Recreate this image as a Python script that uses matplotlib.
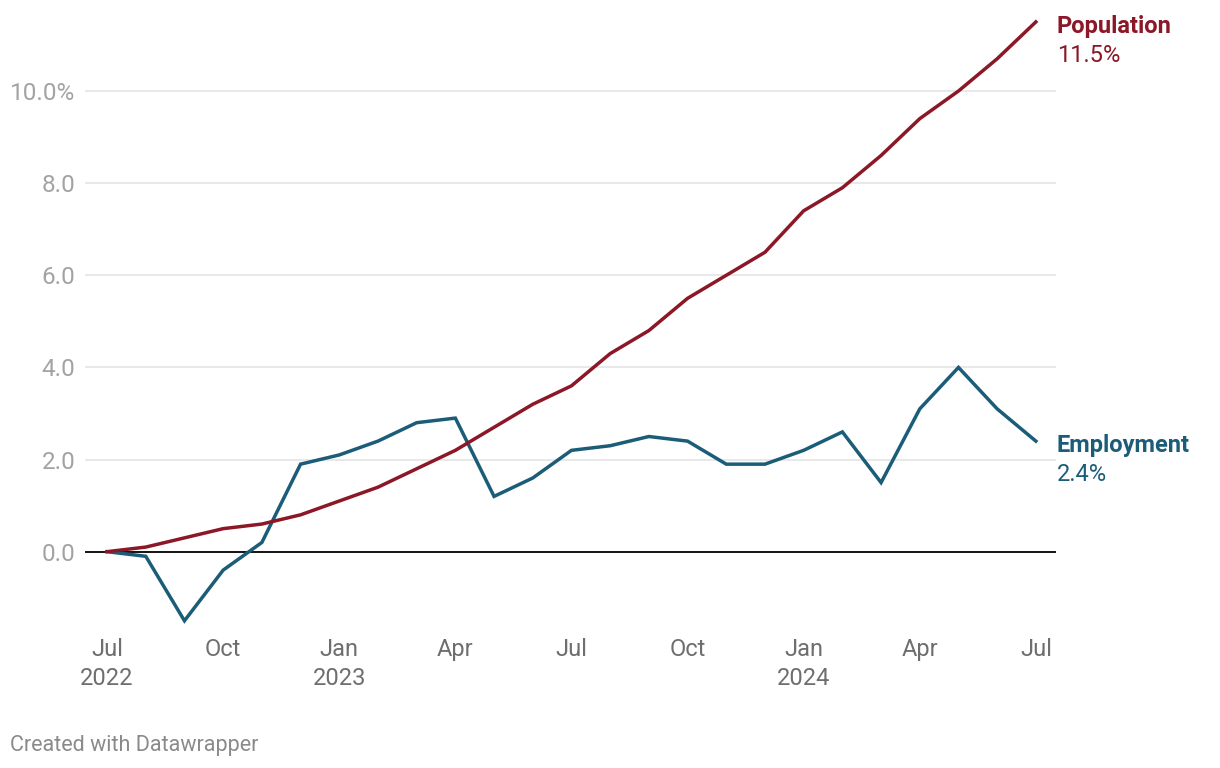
import matplotlib
matplotlib.use("Agg")
import matplotlib.pyplot as plt

plt.rcParams['font.family'] = ['Roboto', 'DejaVu Sans']

# months since Jul 2022
months = list(range(25))
population = [0.0, 0.1, 0.3, 0.5, 0.6, 0.8, 1.1, 1.4, 1.8, 2.2, 2.7, 3.2, 3.6,
              4.3, 4.8, 5.5, 6.0, 6.5, 7.4, 7.9, 8.6, 9.4, 10.0, 10.7, 11.5]
employment = [0.0, -0.1, -1.5, -0.4, 0.2, 1.9, 2.1, 2.4, 2.8, 2.9, 1.2, 1.6, 2.2,
              2.3, 2.5, 2.4, 1.9, 1.9, 2.2, 2.6, 1.5, 3.1, 4.0, 3.1, 2.4]

xtick_pos = [0, 3, 6, 9, 12, 15, 18, 21, 24]
xtick_labels = ["Jul\n2022", "Oct", "Jan\n2023", "Apr", "Jul", "Oct", "Jan\n2024", "Apr", "Jul"]
ytick_pos = [0, 2, 4, 6, 8, 10]
ytick_labels = ["0.0", "2.0", "4.0", "6.0", "8.0", "10.0%"]

pop_color = "#8b1727"
emp_color = "#1b5d78"

fig = plt.figure(figsize=(12.2, 7.68), dpi=100)
ax = fig.add_axes([85 / 1220, 1 - 630 / 768, (1056 - 85) / 1220, (630 - 15) / 768])

for y in ytick_pos:
    if y == 0:
        ax.axhline(y, color="#000000", lw=1.3, zorder=2)
    else:
        ax.axhline(y, color="#e2e2e2", lw=1.1, zorder=1)

ax.plot(months, employment, color=emp_color, lw=2.5, solid_joinstyle="miter", zorder=3)
ax.plot(months, population, color=pop_color, lw=2.5, solid_joinstyle="miter", zorder=4)

ax.set_xlim(-0.57, 24.52)
ax.set_ylim(-1.7, 11.65)

for s in ax.spines.values():
    s.set_visible(False)

ax.set_yticks(ytick_pos)
ax.set_yticklabels(ytick_labels)
ax.tick_params(axis="y", length=0, pad=7, labelsize=17.5, labelcolor="#a3a3a3")
for lbl in ax.get_yticklabels():
    lbl.set_horizontalalignment("right")

ax.set_xticks(xtick_pos)
ax.set_xticklabels(xtick_labels, linespacing=1.3)
ax.tick_params(axis="x", length=0, pad=6, labelsize=17, labelcolor="#6e6e6e")

# end labels
for series, name, color in [(population, "Population", pop_color), (employment, "Employment", emp_color)]:
    last = series[-1]
    ax.annotate(name, xy=(months[-1], last), xytext=(15, -3.5), textcoords="offset points",
                ha="left", va="center", fontsize=17, fontweight="bold", color=color,
                annotation_clip=False)
    ax.annotate(f"{last:.1f}%", xy=(months[-1], last), xytext=(15, -24), textcoords="offset points",
                ha="left", va="center", fontsize=17, color=color, annotation_clip=False)

fig.text(10 / 1220, 1 - 745 / 768, "Created with Datawrapper", ha="left", va="center",
         fontsize=15.5, color="#8a8a8a")

fig.savefig("out.png", dpi=100)
